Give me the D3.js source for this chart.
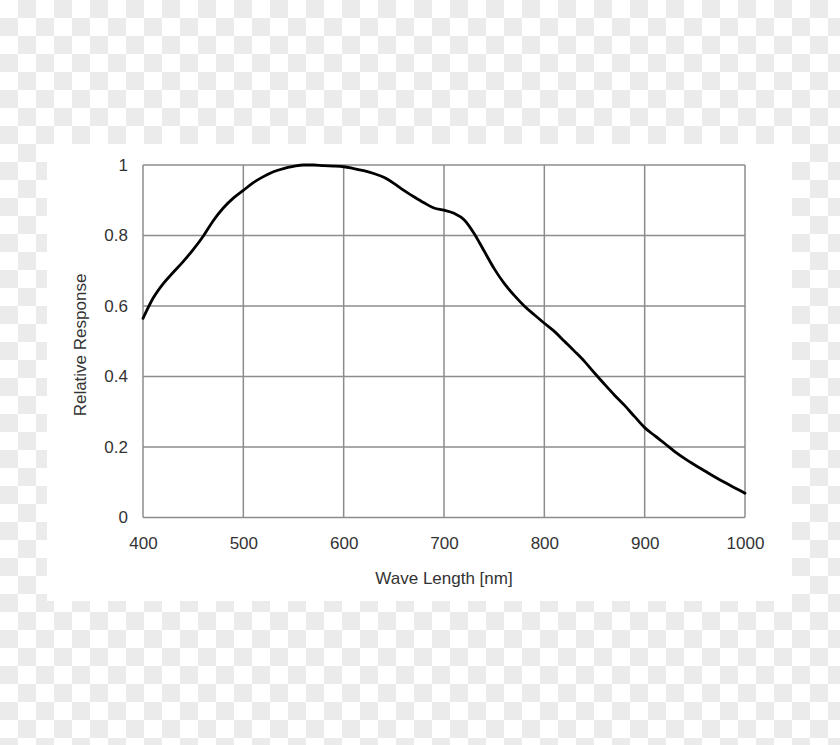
<!DOCTYPE html>
<html>
<head>
<meta charset="utf-8">
<script src="https://cdn.jsdelivr.net/npm/d3@7"></script>
<style>
  html, body { margin: 0; padding: 0; background: #fff; }
  svg { display: block; }
  text { font-family: "Liberation Sans", Arial, sans-serif; fill: #333; }
</style>
</head>
<body>
<svg id="chart" width="840" height="745"></svg>
<script>
// ---- data ----
const wavelengths = [400,410,420,430,440,450,460,470,480,490,500,510,520,530,540,550,560,570,580,590,600,610,620,630,640,650,660,670,680,690,700,710,720,730,740,750,760,770,780,790,800,810,820,830,840,850,860,870,880,890,900,910,920,930,940,950,960,970,980,990,1000];
const response = [0.565,0.622,0.663,0.695,0.726,0.76,0.798,0.842,0.878,0.906,0.928,0.95,0.967,0.981,0.99,0.996,1.0,1.0,0.998,0.997,0.995,0.99,0.984,0.976,0.965,0.948,0.928,0.91,0.893,0.878,0.872,0.863,0.845,0.806,0.756,0.706,0.664,0.63,0.6,0.575,0.551,0.528,0.5,0.472,0.443,0.41,0.378,0.347,0.318,0.286,0.255,0.232,0.21,0.187,0.167,0.149,0.132,0.115,0.099,0.084,0.069];
const xTicks = [400,500,600,700,800,900,1000];
const yTicks = [0,0.2,0.4,0.6,0.8,1];
const yTickLabels = ["0","0.2","0.4","0.6","0.8","1"];
const xTitle = "Wave Length [nm]";
const yTitle = "Relative Response";

// ---- layout ----
const W = 840, H = 745;
const plot = { left: 143, right: 745, top: 165, bottom: 517.5 };

const svg = d3.select("#chart");

// checkerboard background
const defs = svg.append("defs");
const pat = defs.append("pattern").attr("id", "checker")
  .attr("width", 36).attr("height", 36).attr("patternUnits", "userSpaceOnUse");
pat.append("rect").attr("width", 36).attr("height", 36).attr("fill", "#ffffff");
pat.append("rect").attr("x", 18).attr("y", 0).attr("width", 18).attr("height", 18).attr("fill", "#ebebeb");
pat.append("rect").attr("x", 0).attr("y", 18).attr("width", 18).attr("height", 18).attr("fill", "#ebebeb");
svg.append("rect").attr("width", W).attr("height", H).attr("fill", "url(#checker)");

// white panel
svg.append("rect").attr("x", 47).attr("y", 144).attr("width", 745).attr("height", 457).attr("fill", "#ffffff");

const x = d3.scaleLinear().domain([400, 1000]).range([plot.left, plot.right]);
const y = d3.scaleLinear().domain([0, 1]).range([plot.bottom, plot.top]);

const gridColor = "#8c8c8c";
// vertical grid lines
svg.append("g").selectAll("line").data(xTicks).join("line")
  .attr("x1", d => x(d)).attr("x2", d => x(d))
  .attr("y1", y(0)).attr("y2", y(1))
  .attr("stroke", gridColor).attr("stroke-width", 1.5);
// horizontal grid lines
svg.append("g").selectAll("line").data(yTicks).join("line")
  .attr("x1", x(400)).attr("x2", x(1000))
  .attr("y1", d => y(d)).attr("y2", d => y(d))
  .attr("stroke", gridColor).attr("stroke-width", 1.5);

// axes labels via d3 axes (tick lines hidden)
const xAxis = d3.axisBottom(x).tickValues(xTicks).tickSize(0).tickPadding(0).tickFormat(d3.format("d"));
const gx = svg.append("g").attr("transform", `translate(0,${plot.bottom})`).call(xAxis);
gx.select(".domain").remove();
gx.selectAll("text").attr("y", 31).attr("dy", 0).attr("font-size", 17)
  .attr("font-family", "Liberation Sans, Arial, sans-serif").attr("fill", "#333");

const yAxis = d3.axisLeft(y).tickValues(yTicks).tickSize(0).tickPadding(0)
  .tickFormat((d, i) => yTickLabels[i]);
const gy = svg.append("g").attr("transform", `translate(${plot.left},0)`).call(yAxis);
gy.select(".domain").remove();
gy.selectAll("text").attr("x", -15).attr("dy", "0.32em").attr("font-size", 17)
  .attr("font-family", "Liberation Sans, Arial, sans-serif").attr("fill", "#333");

// curve
const line = d3.line()
  .x((d, i) => x(wavelengths[i]))
  .y(d => y(d))
  .curve(d3.curveMonotoneX);
svg.append("path").datum(response)
  .attr("d", line)
  .attr("fill", "none").attr("stroke", "#000").attr("stroke-width", 2.8)
  .attr("stroke-linejoin", "round").attr("stroke-linecap", "round");

// titles
svg.append("text").attr("x", 444).attr("y", 584).attr("text-anchor", "middle")
  .attr("font-size", 17).text(xTitle);
svg.append("text").attr("transform", "translate(86,345) rotate(-90)")
  .attr("text-anchor", "middle").attr("font-size", 17).text(yTitle);
</script>
</body>
</html>
